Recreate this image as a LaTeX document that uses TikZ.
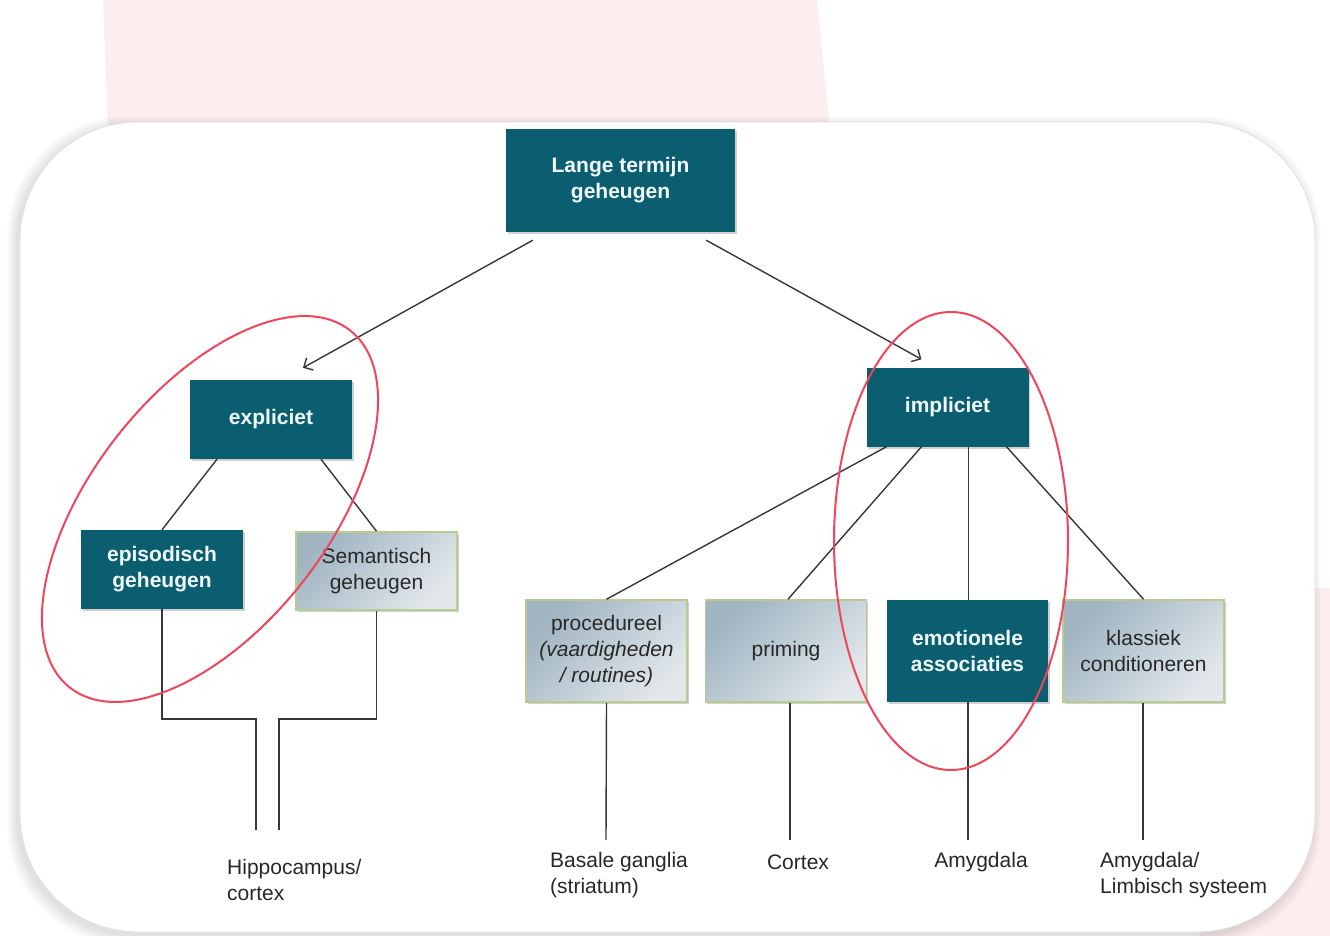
\documentclass[tikz,border=0pt]{standalone}
\usepackage{fontspec}
\setmainfont{Liberation Sans}
\usetikzlibrary{arrows.meta,calc,shadows}
\definecolor{tealbox}{RGB}{11,94,112}
\definecolor{gdark}{RGB}{160,180,194}
\definecolor{glight}{RGB}{226,232,235}
\definecolor{gborder}{RGB}{184,204,142}
\definecolor{pinkbg}{RGB}{252,238,238}
\definecolor{redring}{RGB}{240,70,92}
\definecolor{txt}{RGB}{40,40,40}
\definecolor{linec}{RGB}{55,55,55}
\begin{document}
\begin{tikzpicture}[x=1pt,y=-1pt,
  boxshadow/.style={drop shadow={shadow xshift=1.5pt,shadow yshift=-2pt,opacity=0.3,fill=black!60}},
  tealnode/.style={boxshadow,fill=tealbox,text=white!94!cyan,font=\fontsize{21}{26}\selectfont\bfseries,align=center,inner sep=0pt},
  graynode/.style={boxshadow,draw=gborder,line width=1.5pt,top color=gdark,bottom color=glight,shading angle=45,text=txt,font=\fontsize{21}{26}\selectfont,align=center,inner sep=0pt},
  smallbox/.style={minimum width=162pt,minimum height=79pt},
  lowbox/.style={minimum width=161pt,minimum height=102pt},
  conn/.style={draw=linec,line width=1.4pt},
  arr/.style={conn,-{Straight Barb[length=7pt,width=14pt]}},
  lbl/.style={text=txt,font=\fontsize{21}{26}\selectfont,inner sep=0pt},
  ring/.style={draw=redring,line width=2pt}
]
\useasboundingbox (0,0) rectangle (1330,936);
\fill[white] (0,0) rectangle (1330,936);
% pink backgrounds
\fill[pinkbg] (103,0) -- (817,0) -- (830,130) -- (108,130) -- cycle;
\fill[pinkbg] (1200,588) rectangle (1330,936);
% card shadow
\foreach \i in {1,...,10}{
  \fill[black,opacity=0.012,rounded corners=120pt] (20-\i-3,122-\i+4) rectangle (1315+\i-4,932+\i+3);
}
\fill[white,draw=black!12,line width=0.8pt,rounded corners=118pt] (20,122) rectangle (1315,932);

% nodes
\node[tealnode,minimum width=229pt,minimum height=103pt] (lt) at (620.5,180.5) {Lange termijn\\geheugen};
\node[tealnode,smallbox] (ex) at (271,419.5) {expliciet};
\node[tealnode,smallbox] (im) at (947.5,407) {impliciet};
\node[tealnode,smallbox] (ep) at (162,569.5) {episodisch\\geheugen};
\node[graynode,minimum width=161pt,minimum height=78pt] (se) at (376.5,571) {Semantisch\\geheugen};
\node[graynode,lowbox] (pr) at (606.5,651) {procedureel\\\textit{(vaardigheden}\\\textit{/ routines)}};
\node[graynode,lowbox] (pm) at (786,651) {priming};
\node[tealnode,lowbox] (em) at (967.5,651) {emotionele\\associaties};
\node[graynode,lowbox] (kl) at (1143.5,651) {klassiek\\conditioneren};

% bottom labels
\node[lbl,anchor=west,align=left] (hip) at (227,880) {Hippocampus/\\cortex};
\node[lbl,anchor=west,align=left] (bas) at (550,875) {Basale ganglia\\(striatum)};
\node[lbl] (cor) at (798,862) {Cortex};
\node[lbl] (amy) at (981,862) {Amygdala};
\node[lbl,anchor=west,align=left] (lim) at (1100,875) {Amygdala/\\Limbisch systeem};

% arrows from top
\draw[arr] ($(lt.south west)+(27,8)$) -- ($(ex.north)+(32,-12)$);
\draw[arr] ($(lt.south east)+(-29,8)$) -- ($(im.north)+(-26,-8)$);

% expliciet branches
\draw[conn] ($(ex.south)+(-54,0)$) -- (ep.north);
\draw[conn] ($(ex.south)+(50,0)$) -- (se.north);

% hippocampus elbows
\coordinate (hipL) at (256,830);
\coordinate (hipR) at (279,830);
\draw[conn] (ep.south) |- ($(hipL)+(0,-111)$) -- (hipL);
\draw[conn] (se.south) |- ($(hipR)+(0,-111)$) -- (hipR);

% impliciet branches
\draw[conn] ($(im.south)+(-61,0)$) -- (pr.north);
\draw[conn] ($(im.south)+(-26,0)$) -- ($(pm.north)+(2,0)$);
\draw[conn] ($(im.south)+(21,0)$) -- ($(em.north)+(1,0)$);
\draw[conn] ($(im.south)+(59,0)$) -- (kl.north);

% down lines to labels
\coordinate (bEnd) at (606,840);
\coordinate (cEnd) at (790,840);
\coordinate (aEnd) at (968,840);
\coordinate (lEnd) at (1143,840);
\draw[conn] (pr.south) -- (bEnd);
\draw[conn] ($(pm.south)+(4,0)$) -- (cEnd);
\draw[conn] ($(em.south)+(0.5,0)$) -- (aEnd);
\draw[conn] ($(kl.south)+(-0.5,0)$) -- (lEnd);

% red ellipses
\draw[ring,rotate around={51.9:(210,509)}] (210,509) ellipse [x radius=227, y radius=118];
\draw[ring] (951,541) ellipse [x radius=117, y radius=229];
\end{tikzpicture}
\end{document}
